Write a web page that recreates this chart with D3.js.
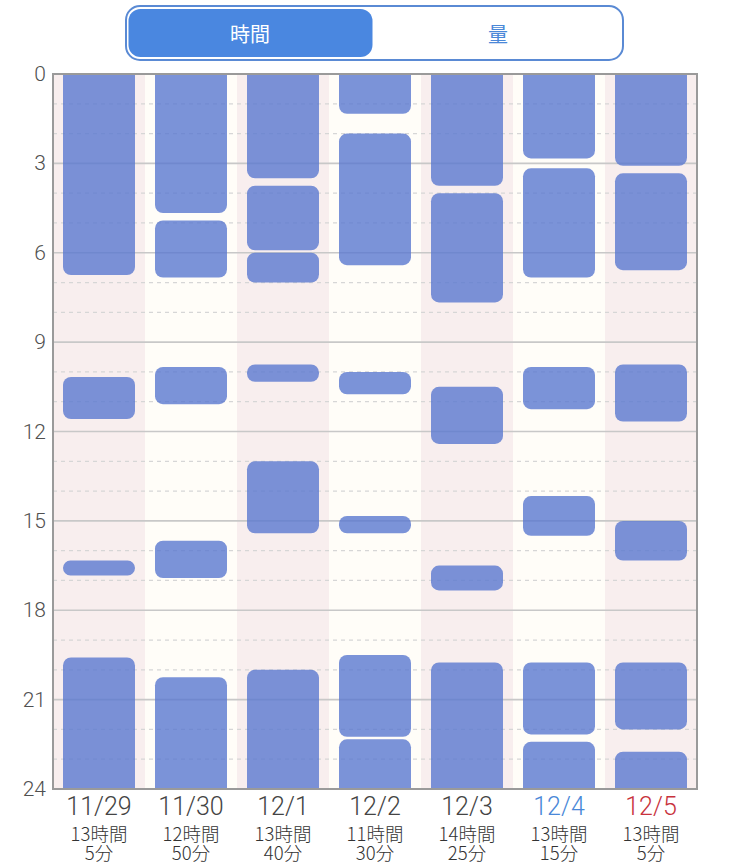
<!DOCTYPE html>
<html>
<head>
<meta charset="utf-8">
<script src="https://cdn.jsdelivr.net/npm/d3@7"></script>
<style>
html,body{margin:0;padding:0;background:#ffffff;}
svg{display:block;font-family:"Noto Sans CJK JP","Noto Sans",sans-serif;}
</style>
</head>
<body>
<svg id="chart" width="750" height="865"></svg>
<script>
// ---- data ----
const dates = ["11/29","11/30","12/1","12/2","12/3","12/4","12/5"];
const dayKinds = ["weekday","weekday","weekday","weekday","weekday","sat","sun"];
const sleep1129 = [["0:00","6:45"],["10:10","11:35"],["16:20","16:50"],["19:35","24:00"]];
const sleep1130 = [["0:00","4:40"],["4:55","6:50"],["9:50","11:05"],["15:40","16:55"],["20:15","24:00"]];
const sleep1201 = [["0:00","3:30"],["3:45","5:55"],["6:00","7:00"],["9:45","10:20"],["13:00","15:25"],["20:00","24:00"]];
const sleep1202 = [["0:00","1:20"],["2:00","6:25"],["10:00","10:45"],["14:50","15:25"],["19:30","22:15"],["22:20","24:00"]];
const sleep1203 = [["0:00","3:45"],["4:00","7:40"],["10:30","12:25"],["16:30","17:20"],["19:45","24:00"]];
const sleep1204 = [["0:00","2:50"],["3:10","6:50"],["9:50","11:15"],["14:10","15:30"],["19:45","22:10"],["22:25","24:00"]];
const sleep1205 = [["0:00","3:05"],["3:20","6:35"],["9:45","11:40"],["15:00","16:20"],["19:45","22:00"],["22:45","24:00"]];
const sleepByDay = [sleep1129,sleep1130,sleep1201,sleep1202,sleep1203,sleep1204,sleep1205];
const yTicks = [0,3,6,9,12,15,18,21,24];
const tabLabels = ["時間","量"];

// ---- helpers ----
const toH = s => { const [h,m] = s.split(":").map(Number); return h + m/60; };
const segments = [];
sleepByDay.forEach((arr,i) => arr.forEach(([a,b]) => segments.push({day:dates[i], start:toH(a), end:toH(b)})));
const totals = sleepByDay.map(arr => Math.round(d3.sum(arr, ([a,b]) => (toH(b)-toH(a))*60)));

const svg = d3.select("#chart");
const L = 53, R = 697, T = 74, B = 789;
const x = d3.scaleBand().domain(dates).range([L,R]);
const y = d3.scaleLinear().domain([0,24]).range([T,B]);
const inset = 10;

// rounded rect path with optional square top / bottom
function barPath(x0, y0, w, h, rTop, rBot) {
  const p = d3.path();
  p.moveTo(x0 + rTop, y0);
  p.lineTo(x0 + w - rTop, y0);
  if (rTop) p.arcTo(x0 + w, y0, x0 + w, y0 + rTop, rTop);
  p.lineTo(x0 + w, y0 + h - rBot);
  if (rBot) p.arcTo(x0 + w, y0 + h, x0 + w - rBot, y0 + h, rBot);
  p.lineTo(x0 + rBot, y0 + h);
  if (rBot) p.arcTo(x0, y0 + h, x0, y0 + h - rBot, rBot);
  p.lineTo(x0, y0 + rTop);
  if (rTop) p.arcTo(x0, y0, x0 + rTop, y0, rTop);
  p.closePath();
  return p.toString();
}

// ---- toggle ----
const tg = svg.append("g");
tg.append("rect").attr("x",126).attr("y",6).attr("width",497).attr("height",54)
  .attr("rx",14).attr("fill","#ffffff").attr("stroke","#5a8ad4").attr("stroke-width",2);
tg.append("rect").attr("x",128.5).attr("y",9).attr("width",244).attr("height",48)
  .attr("rx",12).attr("fill","#4a87e0");
tg.append("text").attr("x",250).attr("y",33).attr("text-anchor","middle").attr("dominant-baseline","central")
  .attr("font-size",20).attr("fill","#ffffff").text(tabLabels[0]);
tg.append("text").attr("x",498).attr("y",33).attr("text-anchor","middle").attr("dominant-baseline","central")
  .attr("font-size",20).attr("fill","#4a88d8").text(tabLabels[1]);

// ---- stripes ----
svg.append("g").selectAll("rect").data(dates).join("rect")
  .attr("x", d => x(d)).attr("y", T).attr("width", x.bandwidth()).attr("height", B-T)
  .attr("fill", (d,i) => i%2===0 ? "#f8eeee" : "#fffdf8");

// ---- grid ----
const hours = d3.range(1,24);
svg.append("g").selectAll("line").data(hours).join("line")
  .attr("x1",L).attr("x2",R).attr("y1",d=>y(d)).attr("y2",d=>y(d))
  .attr("stroke", d => d%3===0 ? "#c8c8c8" : "#d6d6d6")
  .attr("stroke-width", d => d%3===0 ? 1.6 : 1.3)
  .attr("stroke-dasharray", d => d%3===0 ? null : "4,4");

// ---- bars ----
svg.append("g").selectAll("path").data(segments).join("path")
  .attr("d", d => {
    const y0 = y(d.start), y1 = y(d.end), h = y1 - y0;
    const r = Math.min(8, h/2);
    return barPath(x(d.day)+inset, y0, x.bandwidth()-2*inset, h,
      d.start <= 0 ? 0 : r, d.end >= 24 ? 0 : r);
  })
  .attr("fill","#5a78d0").attr("fill-opacity",0.8);

// ---- frame ----
svg.append("rect").attr("x",L).attr("y",T).attr("width",R-L).attr("height",B-T)
  .attr("fill","none").attr("stroke","#9a9a9a").attr("stroke-width",2);

// ---- y axis labels ----
svg.append("g").selectAll("text").data(yTicks).join("text")
  .attr("x",46).attr("y",d=>y(d)).attr("text-anchor","end").attr("dominant-baseline","central")
  .attr("font-family","Roboto, sans-serif")
  .attr("font-size",21).attr("font-weight",300).attr("fill","#505050").text(d=>d);

// ---- x labels ----
const dateColor = k => k==="sat" ? "#4a88d8" : k==="sun" ? "#c8323c" : "#444444";
const xl = svg.append("g");
xl.selectAll("text.date").data(dates).join("text").attr("class","date")
  .attr("x", d => x(d)+x.bandwidth()/2).attr("y",806)
  .attr("text-anchor","middle").attr("dominant-baseline","central")
  .attr("font-family","Roboto, sans-serif")
  .attr("font-size",25).attr("font-weight",300).attr("fill",(d,i)=>dateColor(dayKinds[i])).text(d=>d);
const dur = xl.selectAll("text.dur").data(totals).join("text").attr("class","dur")
  .attr("text-anchor","middle")
  .attr("font-size",18.5).attr("font-weight",300).attr("fill","#333333");
dur.append("tspan")
  .attr("x", (d,i) => x(dates[i])+x.bandwidth()/2).attr("y",841)
  .text(d => Math.floor(d/60)+"時間");
dur.append("tspan")
  .attr("x", (d,i) => x(dates[i])+x.bandwidth()/2).attr("y",860)
  .text(d => (d%60)+"分");
</script>
</body>
</html>
